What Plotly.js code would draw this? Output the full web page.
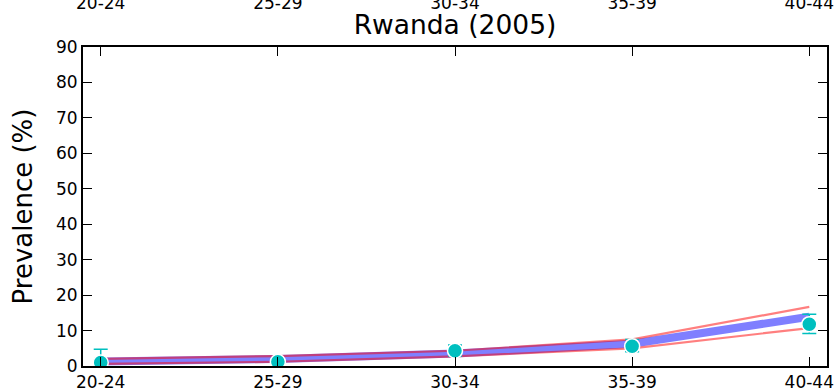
<!DOCTYPE html>
<html>
<head>
<meta charset="utf-8">
<script src="https://cdn.plot.ly/plotly-3.0.1.min.js"></script>
<style>html,body{margin:0;padding:0;background:#fff;}#chart{width:839px;height:392px;}</style>
</head>
<body>
<div id="chart"></div>
<script>
const categories = ['20-24', '25-29', '30-34', '35-39', '40-44'];
const modelMean = [1.3, 2.0, 3.5, 6.3, 13.9];
const modelUpper = [2.0, 2.8, 4.3, 7.5, 16.7];
const modelLower = [0.6, 1.2, 2.7, 5.0, 10.7];
const obsValue = [1.0, 1.2, 4.3, 5.6, 11.8];
const obsErrPlus = [3.7, 0.6, 1.6, 1.9, 2.8];
const obsErrMinus = [1.0, 0.6, 1.5, 1.6, 2.6];

const idx = categories.map((c, i) => i);
const font = 'DejaVu Sans, sans-serif';

const traces = [
  {x: idx, y: modelMean, mode: 'lines', line: {color: 'rgba(0,0,255,0.5)', width: 8}, hoverinfo: 'skip'},
  {x: idx, y: modelUpper, mode: 'lines', line: {color: 'rgba(255,0,0,0.5)', width: 2.2}, hoverinfo: 'skip'},
  {x: idx, y: modelLower, mode: 'lines', line: {color: 'rgba(255,0,0,0.5)', width: 2.2}, hoverinfo: 'skip'},
  {x: idx, y: obsValue, mode: 'markers',
   marker: {color: '#00bfbf', size: 15, line: {color: '#ffffff', width: 1.5}},
   error_y: {type: 'data', symmetric: false, array: obsErrPlus, arrayminus: obsErrMinus,
             color: '#00bfbf', thickness: 1.5, width: 7}},
  {x: idx, y: obsValue, xaxis: 'x2', mode: 'markers', marker: {opacity: 0}, hoverinfo: 'skip'}
];

const layout = {
  width: 839, height: 392,
  margin: {l: 83, r: 12, t: 47, b: 26},
  paper_bgcolor: '#ffffff', plot_bgcolor: '#ffffff',
  showlegend: false,
  font: {family: font, color: '#000', size: 17},
  title: {text: 'Rwanda (2005)', font: {family: font, size: 26.5, color: '#000'},
          x: 0.5, xanchor: 'center', y: 0.937, yanchor: 'middle', xref: 'paper'},
  xaxis: {
    range: [-0.1, 4.1], tickvals: idx, ticktext: categories,
    showgrid: false, zeroline: false, showline: true, linecolor: '#000', linewidth: 2,
    mirror: 'ticks', ticks: 'inside', ticklen: 9, tickwidth: 1, tickcolor: '#000',
    tickfont: {family: font, size: 17, color: '#000'}
  },
  xaxis2: {
    overlaying: 'x', side: 'top', anchor: 'y', matches: 'x',
    range: [-0.1, 4.1], tickvals: idx, ticktext: categories,
    showgrid: false, zeroline: false, showline: false, ticks: '',
    ticklabelstandoff: 34,
    tickfont: {family: font, size: 17, color: '#000'}
  },
  yaxis: {
    range: [0, 90], tickvals: [0,10,20,30,40,50,60,70,80,90],
    showgrid: false, zeroline: false, showline: true, linecolor: '#000', linewidth: 2,
    mirror: 'ticks', ticks: 'inside', ticklen: 9, tickwidth: 1, tickcolor: '#000',
    tickfont: {family: font, size: 17, color: '#000'},
    title: {text: 'Prevalence (%)', font: {family: font, size: 26, color: '#000'}, standoff: 16}
  }
};

Plotly.newPlot('chart', traces, layout, {staticPlot: true, displayModeBar: false});
</script>
</body>
</html>
